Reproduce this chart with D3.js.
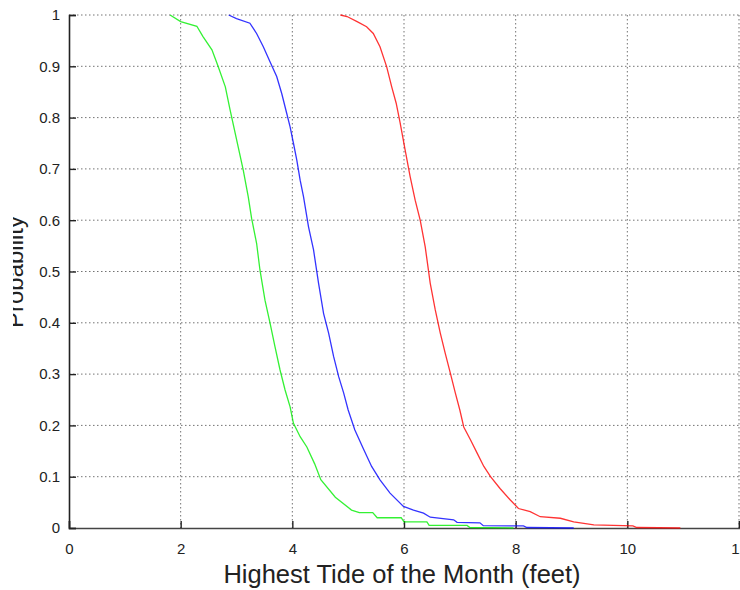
<!DOCTYPE html>
<html>
<head>
<meta charset="utf-8">
<script src="https://cdn.jsdelivr.net/npm/d3@7"></script>
<style>
html,body{margin:0;padding:0;background:#fff;}
svg{display:block;}
text{font-family:"Liberation Sans",Arial,Helvetica,sans-serif;fill:#222;}
</style>
</head>
<body>
<div id="chart"></div>
<script>
// ---- data ----
const xTicks = [0, 2, 4, 6, 8, 10, 12];
const yTicks = [0, 0.1, 0.2, 0.3, 0.4, 0.5, 0.6, 0.7, 0.8, 0.9, 1];
const yTickLabels = ["0", "0.1", "0.2", "0.3", "0.4", "0.5", "0.6", "0.7", "0.8", "0.9", "1"];

const greenX = [1.81, 2.0, 2.29, 2.4, 2.56, 2.67, 2.8, 2.885, 3.03, 3.12, 3.21, 3.27, 3.36, 3.42, 3.51, 3.6, 3.69, 3.78, 3.87, 3.96, 4.02, 4.14, 4.26, 4.4, 4.51, 4.77, 5.06, 5.2, 5.44, 5.52, 5.95, 6.0, 6.41, 6.45, 7.13, 7.18, 7.96];
const greenY = [1.0, 0.987, 0.978, 0.958, 0.932, 0.9, 0.86, 0.815, 0.743, 0.698, 0.646, 0.604, 0.555, 0.503, 0.444, 0.4, 0.353, 0.308, 0.269, 0.236, 0.204, 0.178, 0.158, 0.125, 0.094, 0.06, 0.035, 0.03, 0.03, 0.02, 0.02, 0.012, 0.012, 0.005, 0.005, 0.001, 0.0];

const blueX = [2.86, 3.0, 3.24, 3.36, 3.48, 3.6, 3.72, 3.81, 3.9, 3.96, 4.02, 4.08, 4.14, 4.2, 4.29, 4.38, 4.47, 4.56, 4.65, 4.74, 4.83, 4.92, 5.0, 5.12, 5.27, 5.42, 5.57, 5.75, 5.99, 6.17, 6.35, 6.47, 6.89, 6.95, 7.36, 7.42, 8.14, 8.2, 9.04];
const blueY = [1.0, 0.993, 0.984, 0.964, 0.938, 0.909, 0.88, 0.847, 0.808, 0.782, 0.75, 0.717, 0.678, 0.646, 0.587, 0.542, 0.477, 0.418, 0.38, 0.334, 0.295, 0.263, 0.23, 0.191, 0.155, 0.12, 0.094, 0.068, 0.042, 0.035, 0.029, 0.021, 0.016, 0.011, 0.01, 0.0045, 0.004, 0.001, 0.0];

const redX = [4.86, 4.98, 5.16, 5.33, 5.45, 5.57, 5.69, 5.78, 5.86, 5.93, 6.02, 6.11, 6.2, 6.29, 6.38, 6.47, 6.56, 6.65, 6.74, 6.83, 6.92, 7.0, 7.07, 7.19, 7.31, 7.43, 7.55, 7.72, 7.9, 8.05, 8.26, 8.44, 8.8, 9.04, 9.4, 10.1, 10.17, 10.95];
const redY = [1.0, 0.997, 0.987, 0.977, 0.964, 0.938, 0.899, 0.86, 0.828, 0.79, 0.737, 0.685, 0.639, 0.6, 0.548, 0.477, 0.425, 0.38, 0.34, 0.302, 0.263, 0.23, 0.197, 0.172, 0.146, 0.12, 0.1, 0.077, 0.055, 0.038, 0.032, 0.022, 0.019, 0.012, 0.006, 0.004, 0.001, 0.0];

const xLabel = "Highest Tide of the Month (feet)";
const yLabel = "Probability";

// ---- layout ----
const W = 740, H = 590;
const mLeft = 69, mRight = 739, mTop = 15, mBottom = 528;

const svg = d3.select("#chart").append("svg").attr("width", W).attr("height", H);

const x = d3.scaleLinear().domain([0, 12]).range([mLeft, mRight]);
const y = d3.scaleLinear().domain([0, 1]).range([mBottom, mTop]);

// grid
const grid = svg.append("g").attr("stroke", "#000").attr("stroke-width", 1)
  .attr("stroke-dasharray", "1.5,2.5").attr("stroke-opacity", 0.55);
grid.selectAll("line.v").data(xTicks.filter(d => d > 0)).enter().append("line")
  .attr("x1", d => x(d)).attr("x2", d => x(d)).attr("y1", mTop).attr("y2", mBottom);
grid.selectAll("line.h").data(yTicks.filter(d => d > 0)).enter().append("line")
  .attr("x1", mLeft).attr("x2", mRight).attr("y1", d => y(d)).attr("y2", d => y(d));

// axes
const xAxis = d3.axisBottom(x).tickValues(xTicks).tickSize(-7).tickPadding(15)
  .tickFormat(d3.format("d"));
const gx = svg.append("g").attr("transform", `translate(0,${mBottom})`).call(xAxis);
gx.select(".domain").attr("stroke", "#444").attr("stroke-width", 1.6);
gx.selectAll(".tick line").attr("stroke", "#222").attr("stroke-width", 1.4);
gx.selectAll(".tick text").attr("font-size", 15).attr("fill", "#222")
  .attr("font-family", "Liberation Sans, Arial, sans-serif");

const yAxis = d3.axisLeft(y).tickValues(yTicks).tickSize(-7).tickPadding(9)
  .tickFormat((d, i) => yTickLabels[i]);
const gy = svg.append("g").attr("transform", `translate(${mLeft},0)`).call(yAxis);
gy.select(".domain").attr("stroke", "#222").attr("stroke-width", 1.6);
gy.selectAll(".tick line").attr("stroke", "#222").attr("stroke-width", 1.4);
gy.selectAll(".tick text").attr("font-size", 15).attr("fill", "#222")
  .attr("font-family", "Liberation Sans, Arial, sans-serif");

// curves
const line = d3.line().x(d => x(d[0])).y(d => y(d[1]));
const series = [
  {xs: greenX, ys: greenY, color: "#00ee00"},
  {xs: blueX, ys: blueY, color: "#0000ff"},
  {xs: redX, ys: redY, color: "#ff0000"}
];
series.forEach(s => {
  svg.append("path")
    .datum(s.xs.map((v, i) => [v, s.ys[i]]))
    .attr("fill", "none").attr("stroke", s.color).attr("stroke-width", 1.3)
    .attr("stroke-opacity", 0.8)
    .attr("d", line);
});

// labels
svg.append("text").attr("x", (222 + 582) / 2).attr("y", 583)
  .attr("text-anchor", "middle").attr("font-size", 25.5).attr("fill", "#222")
  .text(xLabel);

svg.append("defs").append("clipPath").attr("id", "ylabclip")
  .append("rect").attr("x", 13).attr("y", 0).attr("width", 50).attr("height", H);
svg.append("g").attr("clip-path", "url(#ylabclip)")
  .append("text").attr("transform", `translate(23,272) rotate(-90)`)
  .attr("text-anchor", "middle").attr("font-size", 24).attr("fill", "#222")
  .text(yLabel);
</script>
</body>
</html>
